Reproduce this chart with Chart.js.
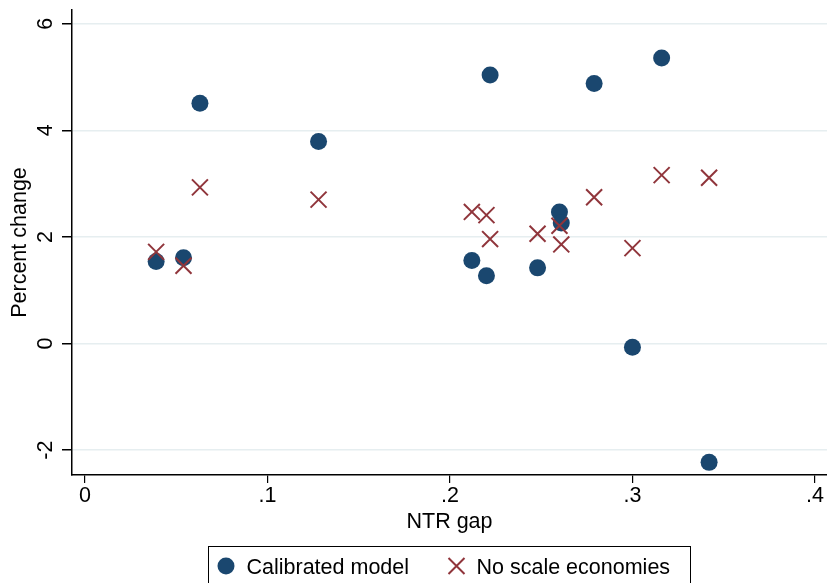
<!DOCTYPE html>
<html><head><meta charset="utf-8">
<script src="https://cdn.jsdelivr.net/npm/chart.js@4.4.1/dist/chart.umd.min.js"></script>
<style>html,body{margin:0;padding:0;background:#fff}canvas{display:block}</style>
</head><body>
<canvas id="c" width="827" height="583"></canvas>
<script>
// ---- data ----
const ntrGap = [0.039, 0.054, 0.063, 0.128, 0.212, 0.220, 0.222, 0.248, 0.260, 0.261, 0.279, 0.300, 0.316, 0.342];
const calibratedModel = [1.54, 1.61, 4.51, 3.79, 1.56, 1.27, 5.04, 1.42, 2.47, 2.26, 4.88, -0.07, 5.36, -2.23];
const noScaleEconomies = [1.72, 1.46, 2.93, 2.70, 2.47, 2.41, 1.96, 2.06, 2.21, 1.86, 2.745, 1.79, 3.16, 3.11];
const seriesNames = ['Calibrated model', 'No scale economies'];
const xTickValues = [0, 0.1, 0.2, 0.3, 0.4];
const xTickLabels = ['0', '.1', '.2', '.3', '.4'];
const yTickValues = [-2, 0, 2, 4, 6];
const yTickLabels = ['-2', '0', '2', '4', '6'];
const xTitle = 'NTR gap';
const yTitle = 'Percent change';

// ---- styles ----
const FONT_FAMILY = '"Liberation Sans", Arial, Helvetica, sans-serif';
const FONT_SIZE = 21.5;
const NAVY = '#1a476f';
const MAROON = '#90353b';
const GRID = '#e6eef0';

const pts = (ys) => ntrGap.map((x, i) => ({ x: x, y: ys[i] }));

function drawCircle(ctx, x, y, r, color) {
  ctx.beginPath(); ctx.arc(x, y, r, 0, Math.PI * 2); ctx.fillStyle = color; ctx.fill();
}
function drawX(ctx, x, y, h, color, w) {
  ctx.beginPath(); ctx.strokeStyle = color; ctx.lineWidth = w;
  ctx.moveTo(x - h, y - h); ctx.lineTo(x + h, y + h);
  ctx.moveTo(x - h, y + h); ctx.lineTo(x + h, y - h); ctx.stroke();
}
function zeroPad(s) { s.paddingLeft = 0; s.paddingRight = 0; s.paddingTop = 0; s.paddingBottom = 0; }

const textPlugin = {
  id: 'stataText',
  afterDraw(chart) {
    const ctx = chart.ctx, ys = chart.scales.y, ca = chart.chartArea;
    ctx.save();
    ctx.fillStyle = '#000';
    ctx.font = FONT_SIZE + 'px ' + FONT_FAMILY;
    ctx.textBaseline = 'alphabetic';
    // rotated y tick labels
    yTickValues.forEach((v, i) => {
      const py = ys.getPixelForValue(v);
      ctx.save(); ctx.translate(52, py); ctx.rotate(-Math.PI / 2);
      ctx.textAlign = 'center'; ctx.fillText(yTickLabels[i], 0, 0); ctx.restore();
    });
    // y title
    ctx.save(); ctx.translate(26, (ca.top + ca.bottom) / 2); ctx.rotate(-Math.PI / 2);
    ctx.textAlign = 'center'; ctx.fillText(yTitle, 0, 0); ctx.restore();
    // x title
    ctx.textAlign = 'center';
    ctx.fillText(xTitle, (ca.left + ca.right) / 2, 528);
    // legend
    ctx.strokeStyle = '#000'; ctx.lineWidth = 1;
    ctx.strokeRect(208.5, 546.5, 482, 60);
    drawCircle(ctx, 226, 566, 8.5, NAVY);
    drawX(ctx, 456.5, 566, 8, MAROON, 2);
    ctx.fillStyle = '#000'; ctx.textAlign = 'left';
    ctx.fillText(seriesNames[0], 246.5, 573.5);
    ctx.fillText(seriesNames[1], 476.5, 573.5);
    ctx.restore();
  }
};

new Chart(document.getElementById('c'), {
  type: 'scatter',
  data: {
    datasets: [
      { label: seriesNames[0], data: pts(calibratedModel), order: 1,
        pointStyle: 'circle', pointRadius: 8.5, pointHoverRadius: 8.5,
        backgroundColor: NAVY, borderColor: NAVY, borderWidth: 0 },
      { label: seriesNames[1], data: pts(noScaleEconomies), order: 0,
        pointStyle: 'crossRot', pointRadius: 11.3, pointHoverRadius: 11.3,
        backgroundColor: MAROON, borderColor: MAROON, borderWidth: 2 }
    ]
  },
  options: {
    responsive: false, animation: false, devicePixelRatio: 1,
    layout: { autoPadding: false, padding: { top: 10, left: 0, right: 0, bottom: 0 } },
    plugins: { legend: { display: false }, tooltip: { enabled: false } },
    scales: {
      x: {
        type: 'linear', min: -0.0071, max: 0.4066,
        afterBuildTicks: s => { s.ticks = xTickValues.map(v => ({ value: v })); },
        afterFit: s => { s.height = 108; zeroPad(s); },
        grid: { drawOnChartArea: false, tickColor: '#000', tickLength: 8, lineWidth: 1.2 },
        border: { color: '#000', width: 1.5 },
        ticks: { padding: 0, color: '#000', maxRotation: 0, autoSkip: false,
          font: { family: FONT_FAMILY, size: FONT_SIZE },
          callback: (v) => { const i = xTickValues.indexOf(v); return i >= 0 ? xTickLabels[i] : ''; } }
      },
      y: {
        type: 'linear', min: -2.467, max: 6.259,
        afterBuildTicks: s => { s.ticks = yTickValues.map(v => ({ value: v })); },
        afterFit: s => { s.width = 72; zeroPad(s); },
        grid: { color: GRID, lineWidth: 1.5, tickColor: '#000', tickLength: 10, drawTicks: true },
        border: { color: '#000', width: 1.5 },
        ticks: { display: false }
      }
    }
  },
  plugins: [textPlugin]
});
</script>
</body></html>
